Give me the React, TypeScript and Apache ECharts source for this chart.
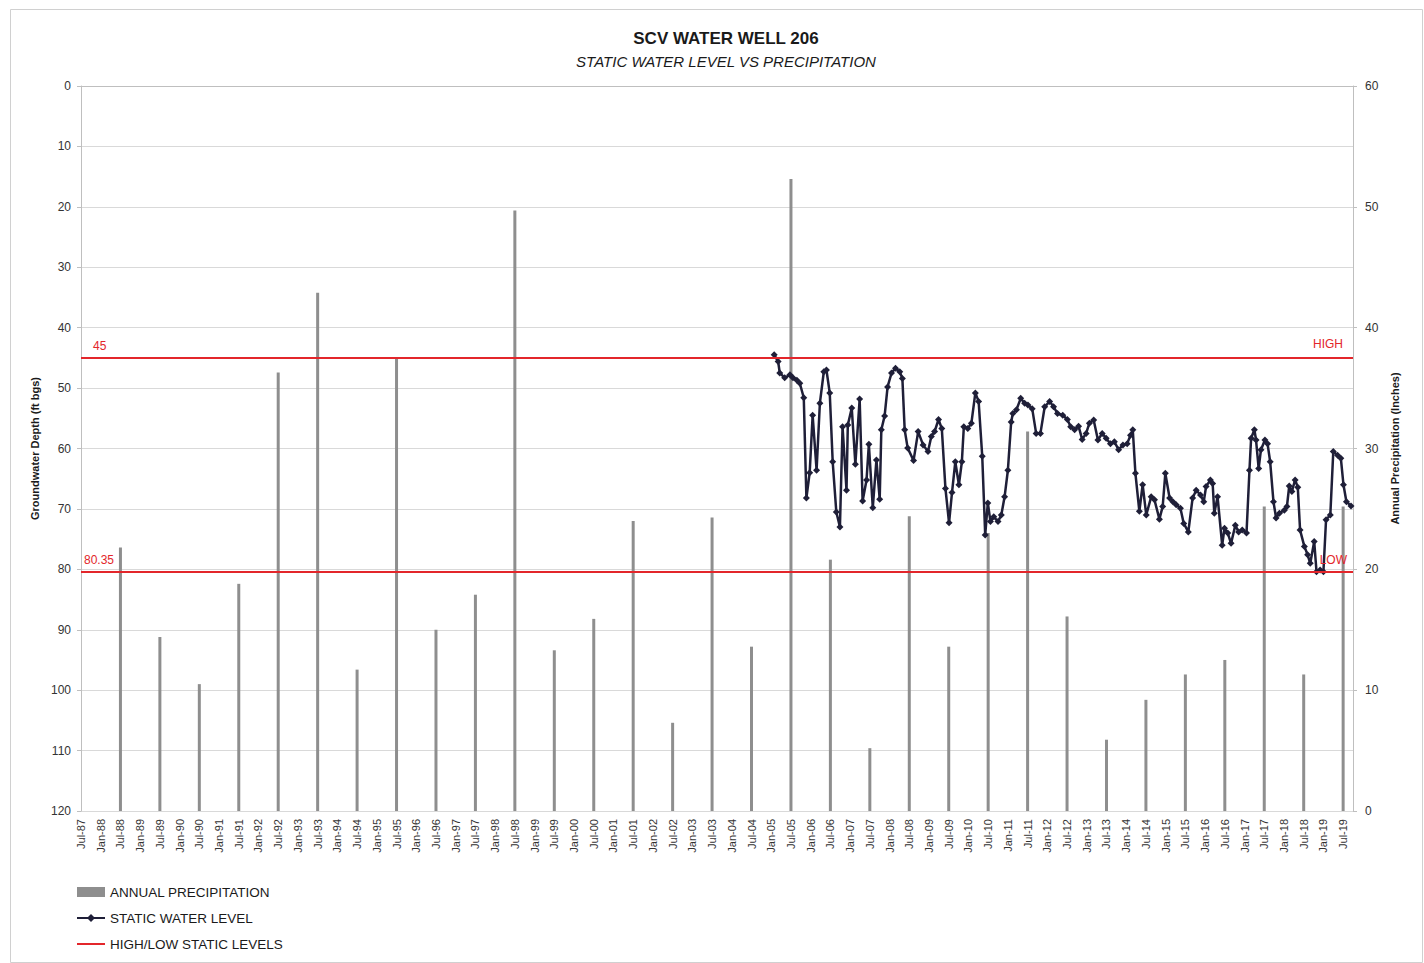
import React, { useEffect, useRef } from 'react';
import * as echarts from 'echarts';

// Annual precipitation (inches), plotted at July of each year
const precipYears = [
  1988, 1989, 1990, 1991, 1992, 1993, 1994, 1995, 1996, 1997,
  1998, 1999, 2000, 2001, 2002, 2003, 2004, 2005, 2006, 2007,
  2008, 2009, 2010, 2011, 2012, 2013, 2014, 2015, 2016, 2017,
  2018, 2019,
];
const precipInches = [
  21.8, 14.4, 10.5, 18.8, 36.3, 42.9, 11.7, 37.5, 15.0, 17.9,
  49.7, 13.3, 15.9, 24.0, 7.3, 24.3, 13.6, 52.3, 20.8, 5.2,
  24.4, 13.6, 23.0, 31.4, 16.1, 5.9, 9.2, 11.3, 12.5, 25.2,
  11.3, 25.2,
];

// Static water level: months after Jul-1987, depth (ft bgs)
const swlMonth = [
  210.9, 212.1, 212.6, 214.1, 215.7, 216.6, 217.8, 218.7, 219.9, 220.7,
  221.7, 222.6, 223.8, 224.8, 226.0, 226.8, 227.8, 228.7, 229.8, 230.9,
  231.7, 232.9, 233.3, 234.5, 235.6, 236.9, 237.8, 239.0, 239.7, 240.9,
  242.0, 243.0, 243.5, 244.5, 245.4, 246.6, 247.8, 249.1, 249.9, 250.6,
  251.5, 253.3, 254.7, 256.2, 257.7, 258.7, 259.7, 260.9, 261.9, 263.0,
  264.1, 265.0, 266.0, 267.1, 268.0, 268.6, 269.8, 270.9, 272.1, 273.1,
  274.2, 275.1, 275.9, 276.7, 277.7, 279.0, 280.0, 281.0, 282.0, 283.0,
  283.5, 284.6, 285.9, 287.1, 288.1, 289.4, 290.6, 291.9, 293.2, 294.7,
  295.9, 297.1, 298.7, 300.1, 301.1, 302.3, 303.5, 304.6, 305.8, 306.8,
  308.1, 309.4, 310.7, 311.9, 313.2, 314.4, 315.7, 317.0, 318.3, 319.3,
  320.0, 320.8, 322.0, 323.0, 324.1, 325.6, 326.6, 328.1, 329.1, 329.9,
  331.2, 332.2, 333.2, 334.5, 335.5, 336.9, 338.2, 339.3, 340.6, 341.6,
  342.3, 343.6, 344.3, 344.8, 345.8, 347.2, 347.9, 348.9, 349.9, 351.2,
  352.2, 353.3, 354.6, 355.5, 356.0, 357.0, 357.5, 358.3, 359.0, 360.2,
  361.0, 361.8, 362.8, 363.6, 364.6, 366.1, 366.9, 367.6, 368.4, 369.4,
  370.2, 370.9, 372.2, 373.2, 374.0, 375.2, 375.9, 377.0, 378.0, 378.8,
  380.1, 381.0, 382.3, 383.3, 384.1, 385.0, 386.4,
];
const swlDepth = [
  44.5, 45.6, 47.5, 48.3, 47.8, 48.3, 48.7, 49.2, 51.6, 68.2,
  64.0, 54.5, 63.6, 52.5, 47.3, 47.0, 50.8, 62.2, 70.5, 73.0,
  56.4, 66.9, 56.1, 53.3, 62.6, 51.8, 68.7, 65.2, 59.3, 69.8,
  61.9, 68.4, 56.9, 54.6, 49.8, 47.5, 46.7, 47.3, 48.4, 56.9,
  59.9, 62.0, 57.2, 59.4, 60.5, 58.0, 57.2, 55.2, 56.7, 66.6,
  72.3, 67.3, 62.2, 66.0, 62.2, 56.4, 56.7, 55.8, 50.8, 52.2,
  61.3, 74.3, 69.0, 72.1, 71.3, 72.1, 71.0, 68.0, 63.6, 55.6,
  54.2, 53.6, 51.7, 52.5, 52.8, 53.4, 57.5, 57.5, 53.1, 52.2,
  53.1, 54.2, 54.5, 55.2, 56.4, 56.9, 56.3, 58.5, 57.5, 55.8,
  55.3, 58.6, 57.5, 58.3, 59.2, 58.9, 60.2, 59.4, 59.2, 57.8,
  56.9, 64.1, 70.4, 66.0, 71.0, 68.0, 68.5, 71.7, 69.6, 64.1,
  68.2, 68.8, 69.3, 69.9, 72.4, 73.8, 68.2, 66.9, 67.7, 68.8,
  66.3, 65.2, 65.8, 70.7, 68.0, 76.0, 73.2, 74.0, 75.7, 72.7,
  73.8, 73.5, 74.0, 63.6, 58.3, 56.9, 58.6, 63.3, 60.2, 58.6,
  59.2, 62.2, 68.8, 71.5, 70.7, 70.2, 69.6, 66.2, 67.1, 65.2,
  66.4, 73.5, 76.2, 77.6, 79.0, 75.4, 80.4, 80.1, 80.4, 71.8,
  71.0, 60.5, 61.1, 61.6, 66.0, 68.8, 69.5,
];

const highLevel = 45;
const lowLevel = 80.35;
const levelLabels = ['45', 'HIGH', '80.35', 'LOW'];

const monthNames = ['Jul', 'Jan'];

const FONT = '"Liberation Sans", Arial, sans-serif';

function tickLabel(v: number): string {
  if (v % 6 !== 0) return '';
  const mon = monthNames[(v / 6) % 2];
  const year = 1987 + Math.floor((v + 6) / 12);
  return `${mon}-${String(year % 100).padStart(2, '0')}`;
}

export default function App() {
  const ref = useRef<HTMLDivElement>(null);

  useEffect(() => {
    if (!ref.current) return;
    const chart = echarts.init(ref.current, undefined, { renderer: 'svg' });

    const precipData = precipYears.map((y, i) => [(y - 1987) * 12, precipInches[i]]);
    const swlData = swlMonth.map((m, i) => [m, swlDepth[i]]);

    const red = '#e3262b';

    chart.setOption({
      animation: false,
      backgroundColor: '#ffffff',
      textStyle: { fontFamily: FONT },
      graphic: [
        {
          type: 'rect',
          left: 8,
          top: 7,
          shape: { width: 1412, height: 953 },
          style: { fill: 'none', stroke: '#d0d0d0', lineWidth: 1 },
          silent: true,
        },
      ],
      title: {
        text: 'SCV WATER WELL 206',
        subtext: 'STATIC WATER LEVEL VS PRECIPITATION',
        left: 721,
        textAlign: 'center',
        top: 25,
        itemGap: 7,
        textStyle: { fontSize: 17, fontWeight: 'bold', color: '#1a1a1a', fontFamily: FONT },
        subtextStyle: { fontSize: 15, fontStyle: 'italic', color: '#1a1a1a', fontFamily: FONT },
      },
      legend: {
        orient: 'vertical',
        left: 76,
        top: 885,
        itemGap: 12,
        itemWidth: 28,
        itemHeight: 10,
        padding: 0,
        textStyle: { fontSize: 13.5, color: '#1a1a1a', fontFamily: FONT },
        data: [
          { name: 'ANNUAL PRECIPITATION', icon: 'rect' },
          { name: 'STATIC WATER LEVEL' },
          { name: 'HIGH/LOW STATIC LEVELS', icon: 'path://M0,4L28,4L28,6L0,6Z' },
        ],
      },
      grid: { left: 81, right: 71, top: 86, bottom: 152, containLabel: false },
      xAxis: {
        type: 'value',
        min: 0,
        max: 387,
        interval: 6,
        axisLine: { show: true, lineStyle: { color: '#bfbfbf', width: 1 } },
        axisTick: { show: false },
        splitLine: { show: false },
        axisLabel: {
          rotate: 90,
          fontSize: 11,
          color: '#333',
          margin: 8,
          showMaxLabel: false,
          fontFamily: FONT,
          formatter: (v: number) => tickLabel(v),
        },
      },
      yAxis: [
        {
          type: 'value',
          inverse: true,
          min: 0,
          max: 120,
          interval: 10,
          position: 'left',
          name: 'Groundwater Depth (ft bgs)',
          nameLocation: 'middle',
          nameRotate: 90,
          nameGap: 40,
          nameTextStyle: { fontSize: 11, fontWeight: 'bold', color: '#1a1a1a', fontFamily: FONT },
          axisLine: { show: true, lineStyle: { color: '#bfbfbf', width: 1 } },
          axisTick: { show: true, length: 4, lineStyle: { color: '#bfbfbf' } },
          splitLine: { show: true, lineStyle: { color: '#d9d9d9', width: 1 } },
          axisLabel: { fontSize: 12, color: '#333', margin: 10, fontFamily: FONT },
        },
        {
          type: 'value',
          min: 0,
          max: 60,
          interval: 10,
          position: 'right',
          name: 'Annual Precipitation (Inches)',
          nameLocation: 'middle',
          nameRotate: 90,
          nameGap: 30,
          nameTextStyle: { fontSize: 11, fontWeight: 'bold', color: '#1a1a1a', fontFamily: FONT },
          axisLine: { show: true, lineStyle: { color: '#bfbfbf', width: 1 } },
          axisTick: { show: true, length: 4, lineStyle: { color: '#bfbfbf' } },
          splitLine: { show: false },
          axisLabel: { fontSize: 12, color: '#333', margin: 12, fontFamily: FONT },
        },
      ],
      series: [
        {
          name: 'ANNUAL PRECIPITATION',
          type: 'bar',
          xAxisIndex: 0,
          yAxisIndex: 1,
          barWidth: 3,
          itemStyle: { color: '#8e8e8e' },
          data: precipData,
          z: 1,
        },
        {
          name: 'HIGH/LOW STATIC LEVELS',
          type: 'line',
          xAxisIndex: 0,
          yAxisIndex: 0,
          symbol: 'none',
          lineStyle: { color: red, width: 2 },
          itemStyle: { color: red },
          data: [],
          z: 2,
          markLine: {
            silent: true,
            symbol: 'none',
            lineStyle: { color: red, width: 2, type: 'solid' },
            label: { color: red, fontSize: 12, fontFamily: FONT },
            data: [
              { yAxis: highLevel, label: { formatter: levelLabels[0], position: 'insideStartTop', distance: [12, 6] } },
              { yAxis: highLevel, label: { formatter: levelLabels[1], position: 'insideEndTop', distance: [10, 8] } },
              { yAxis: lowLevel, label: { formatter: levelLabels[2], position: 'insideStartTop', distance: [3, 5] } },
              { yAxis: lowLevel, label: { formatter: levelLabels[3], position: 'insideEndTop', distance: [6, 5] } },
            ],
          },
        },
        {
          name: 'STATIC WATER LEVEL',
          type: 'line',
          xAxisIndex: 0,
          yAxisIndex: 0,
          symbol: 'diamond',
          symbolSize: 7,
          showSymbol: true,
          lineStyle: { color: '#1f1f38', width: 2.5 },
          itemStyle: { color: '#1f1f38' },
          data: swlData,
          z: 3,
        },
      ],
    });

    return () => {
      chart.dispose();
    };
  }, []);

  return (
    <div
      ref={ref}
      style={{ position: 'fixed', left: 0, top: 0, width: 1424, height: 963, background: '#fff' }}
    />
  );
}
